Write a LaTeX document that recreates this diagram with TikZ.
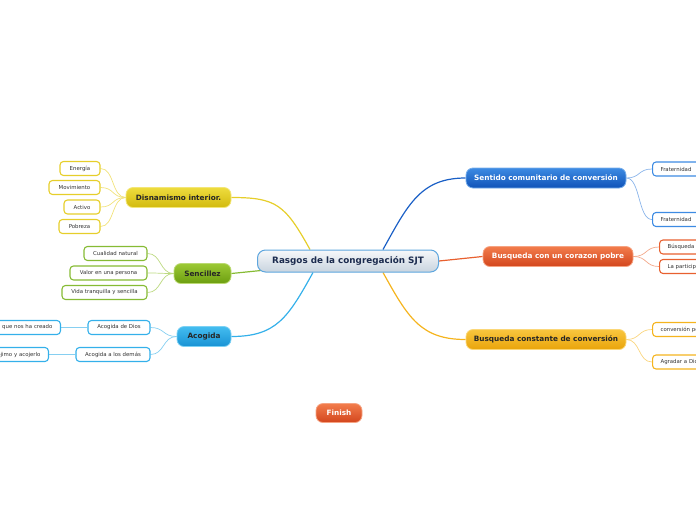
\documentclass[tikz,border=0pt]{standalone}
\usepackage{fontspec}
\setmainfont{DejaVu Sans}
\usetikzlibrary{calc,backgrounds}
\definecolor{bluetop}{HTML}{3D8BE3}\definecolor{bluebot}{HTML}{0F52B8}\definecolor{blueln}{HTML}{1A5FC6}\definecolor{bluesub}{HTML}{8AB4EA}
\definecolor{redtop}{HTML}{F27C4C}\definecolor{redbot}{HTML}{D3461D}\definecolor{redln}{HTML}{E8602F}\definecolor{redsub}{HTML}{F3A88A}
\definecolor{orgtop}{HTML}{F9C63E}\definecolor{orgbot}{HTML}{E9A40B}\definecolor{orgln}{HTML}{F5B41E}\definecolor{orgsub}{HTML}{FAD57E}
\definecolor{yeltop}{HTML}{EEDC3E}\definecolor{yelbot}{HTML}{D2BA0E}\definecolor{yelln}{HTML}{E6CE2A}\definecolor{yelsub}{HTML}{F1E27A}
\definecolor{grntop}{HTML}{9CC935}\definecolor{grnbot}{HTML}{6C9E10}\definecolor{grnln}{HTML}{86BB34}\definecolor{grnsub}{HTML}{BCD980}
\definecolor{cyntop}{HTML}{44BDF0}\definecolor{cynbot}{HTML}{1892D4}\definecolor{cynln}{HTML}{34B0EA}\definecolor{cynsub}{HTML}{86CFF1}
\definecolor{ctrtop}{HTML}{F6F8FA}\definecolor{ctrbot}{HTML}{C9D4DF}\definecolor{ctrln}{HTML}{5EA6DE}\definecolor{ctrtxt}{HTML}{1B2B4E}
\definecolor{subtxt}{HTML}{333333}
\tikzset{
  mainbox/.style={rounded corners=7pt, minimum height=20pt, inner sep=0pt, font=\fontsize{7.3}{8}\selectfont\bfseries, line width=0.8pt},
  subbox/.style={rounded corners=3.5pt, minimum height=14pt, inner sep=0pt, fill=white, line width=1.1pt, font=\fontsize{5.4}{6.5}\selectfont, text=subtxt},
  bluebox/.style={mainbox, top color=bluetop, bottom color=bluebot, draw=bluetop!70!white, text=white},
  redbox/.style={mainbox, top color=redtop, bottom color=redbot, draw=redtop!70!white, text=white},
  orgbox/.style={mainbox, top color=orgtop, bottom color=orgbot, draw=orgtop!70!white, text=black!85},
  yelbox/.style={mainbox, top color=yeltop, bottom color=yelbot, draw=yeltop!70!white, text=black!85},
  grnbox/.style={mainbox, top color=grntop, bottom color=grnbot, draw=grntop!70!white, text=black!85},
  cynbox/.style={mainbox, top color=cyntop, bottom color=cynbot, draw=cyntop!70!white, text=black!85},
  ctrbox/.style={rounded corners=8pt, inner sep=0pt, top color=ctrtop, bottom color=ctrbot, draw=ctrln, line width=1pt, text=ctrtxt, font=\fontsize{8.8}{10}\selectfont\bfseries},
  mainln/.style={line width=1.2pt},
  subln/.style={line width=0.7pt},
}
\begin{document}
\begin{tikzpicture}[x=1pt,y=-1pt]
\useasboundingbox (0,0) rectangle (696,520);
\clip (0,0) rectangle (696,520);

% central
\node[ctrbox, minimum width=181pt, minimum height=22pt] (c) at (348,261) {Rasgos de la congregación SJT};

% main topics
\node[bluebox, minimum width=160pt] (sen) at (546,178) {Sentido comunitario de conversión};
\node[redbox, minimum width=150pt] (cor) at (558,256.5) {Busqueda con un corazon pobre};
\node[orgbox, minimum width=160pt] (con) at (546,339.5) {Busqueda constante de conversión};
\node[yelbox, minimum width=105pt] (dis) at (178.5,197.5) {Disnamismo interior.};
\node[grnbox, minimum width=57pt] (sc) at (202.5,273.5) {Sencillez};
\node[cynbox, minimum width=54pt] (aco) at (204,336.5) {Acogida};
\node[redbox, minimum width=46pt, minimum height=19pt] (fin) at (339,413) {Finish};

% sub nodes right (cut off by the right edge, as in the reference)
\node[subbox, draw=bluetop, minimum width=60pt, anchor=west, text width=44pt, align=left] (f1) at (652,169) {Fraternidad};
\node[subbox, draw=bluetop, minimum width=60pt, anchor=west, text width=44pt, align=left] (f2) at (652,219.5) {Fraternidad};
\node[subbox, draw=redln, minimum width=96pt, anchor=west, text width=80pt, align=left] (b1) at (659,247) {Búsqueda};
\node[subbox, draw=redln, minimum width=96pt, anchor=west, text width=80pt, align=left] (b2) at (659,266.5) {La participación};
\node[subbox, draw=orgln, minimum width=96pt, anchor=west, text width=80pt, align=left] (k1) at (652,329.5) {conversión personal};
\node[subbox, draw=orgln, minimum width=96pt, anchor=west, text width=80pt, align=left] (k2) at (652,362) {Agradar a Dios};

% sub nodes left
\node[subbox, draw=yelln, minimum width=40pt] (d1) at (80,168.5) {Energía};
\node[subbox, draw=yelln, minimum width=51pt] (d2) at (74.5,187.5) {Movimiento};
\node[subbox, draw=yelln, minimum width=36pt] (d3) at (82,207) {Activo};
\node[subbox, draw=yelln, minimum width=41pt] (d4) at (79.5,226.5) {Pobreza};
\node[subbox, draw=grnln, minimum width=63pt] (s1) at (115.5,253.5) {Cualidad natural};
\node[subbox, draw=grnln, minimum width=77pt] (s2) at (108.5,273) {Valor en una persona};
\node[subbox, draw=grnln, minimum width=85pt] (s3) at (104.5,292.5) {Vida tranquilla y sencilla};
\node[subbox, draw=cynln, minimum width=62pt] (a1) at (119,327.5) {Acogida de Dios};
\node[subbox, draw=cynln, minimum width=74pt] (a2) at (113,354.5) {Acogida a los demás};
\node[subbox, draw=cynln, minimum width=80pt, anchor=east, text width=64pt, align=right] (a11) at (61,327.5) {que nos ha creado};
\node[subbox, draw=cynln, minimum width=80pt, anchor=east, text width=64pt, align=right] (a21) at (49,354.5) {prójimo y acojerlo};

% anchor points on central node
\coordinate (cDis) at ($(c.north)+(-38,0)$);
\coordinate (cSen) at ($(c.north)+(35,0)$);
\coordinate (cAco) at ($(c.south)+(-35,0)$);
\coordinate (cCon) at ($(c.south)+(35,0)$);
\coordinate (cSc) at ($(c.south west)+(4,-2)$);

\begin{pgfonlayer}{background}
% main connectors
\draw[mainln, blueln] (cSen) .. controls +(25,-45) and +(-45,0) .. (sen.west);
\draw[mainln, orgln] (cCon) .. controls +(25,45) and +(-45,0) .. (con.west);
\draw[mainln, redln] (c.east) -- (cor.west);
\draw[mainln, yelln] (cDis) .. controls +(-25,-45) and +(45,0) .. (dis.east);
\draw[mainln, grnln] (cSc) -- (sc.east);
\draw[mainln, cynln] (cAco) .. controls +(-25,45) and +(45,0) .. (aco.east);
% sub connectors
\foreach \t in {f1,f2} \draw[subln, bluesub] (sen.east) .. controls +(14,0) and +(-14,0) .. (\t.west);
\foreach \t in {b1,b2} \draw[subln, redsub] (cor.east) .. controls +(14,0) and +(-14,0) .. (\t.west);
\foreach \t in {k1,k2} \draw[subln, orgsub] (con.east) .. controls +(14,0) and +(-14,0) .. (\t.west);
\foreach \t in {d1,d2,d3,d4} \draw[subln, yelsub] (dis.west) .. controls +(-14,0) and +(14,0) .. (\t.east);
\foreach \t in {s1,s2,s3} \draw[subln, grnsub] (sc.west) .. controls +(-14,0) and +(14,0) .. (\t.east);
\foreach \t in {a1,a2} \draw[subln, cynsub] (aco.west) .. controls +(-14,0) and +(14,0) .. (\t.east);
\draw[subln, cynsub] (a1.west) -- (a11.east);
\draw[subln, cynsub] (a2.west) -- (a21.east);
\end{pgfonlayer}
\end{tikzpicture}
\end{document}
